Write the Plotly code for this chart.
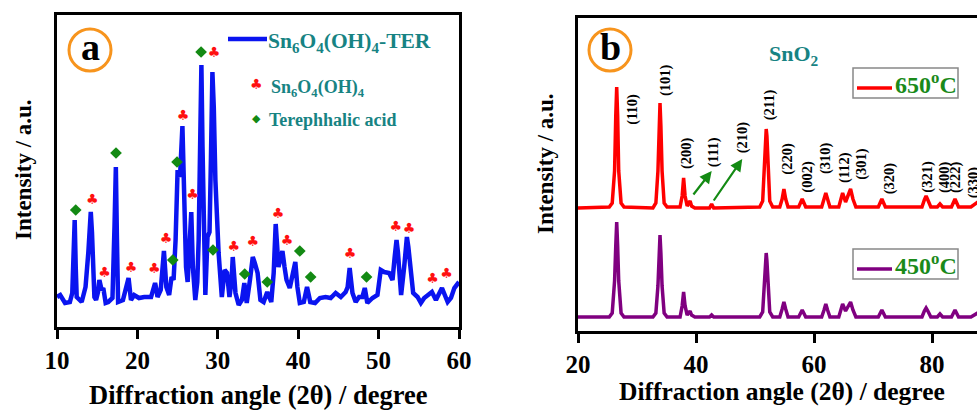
import plotly.graph_objects as go

W, H = 977, 410

# ---------------- Panel a : Sn6O4(OH)4-TER ----------------
a_theta = [10.0, 10.4, 11.0, 11.6, 11.9, 12.05, 12.2, 12.33, 12.45, 13.07, 13.55, 13.9, 14.05, 14.2, 14.35, 14.45, 14.55, 14.65,
           14.86, 15.1, 15.27, 15.4, 15.55, 15.76, 16.05, 16.38, 16.9, 17.15, 17.32, 17.45, 17.6, 18.2, 18.6, 18.9, 19.2,
           19.6, 20.2, 20.85, 21.7, 22.05, 22.2, 22.35, 22.5, 22.9, 23.15, 23.3, 23.45, 23.6, 23.95, 24.25, 24.5, 24.75,
           25.0, 25.3, 25.6, 25.85, 26.05, 26.25, 26.5, 26.7, 26.9, 27.2, 27.45, 27.62, 27.8, 27.96, 28.1, 28.2, 28.45,
           28.72, 28.97, 29.15, 29.33, 29.5, 29.7, 30.1, 30.5, 30.85, 31.15, 31.45, 31.7, 31.86, 32.0, 32.2, 32.6, 33.0,
           33.3, 33.6, 34.0, 34.35, 34.6, 34.95, 35.3, 35.7, 36.15, 36.65, 36.95, 37.2, 37.35, 37.55, 37.85, 38.04, 38.3,
           38.55, 38.95, 39.4, 39.64, 39.9, 40.2, 40.7, 41.1, 41.5, 42.1, 42.7, 43.4, 44.04, 44.66, 45.3, 45.9, 46.15,
           46.4, 46.75, 47.15, 47.57, 47.98, 48.28, 48.6, 49.24, 49.86, 50.27, 50.69, 51.3, 51.73, 52.0, 52.23, 52.4,
           52.56, 52.8, 53.18, 53.35, 53.52, 53.7, 53.9, 54.3, 54.85, 55.26, 55.67, 56.1, 56.63, 57.13, 57.88, 58.59,
           59.0, 59.42, 60.0]
a_int = [30, 32, 24, 25, 34, 75, 107, 60, 30, 25, 40, 75, 100, 115, 95, 80, 50, 30,
         27, 35, 47, 40, 37, 39, 24, 25, 29, 100, 160, 90, 25, 27, 40, 49, 27,
         32, 29, 30, 30, 38, 44, 38, 30, 37, 60, 76, 58, 40, 32, 50, 47, 87,
         157, 150, 201, 110, 60, 45, 80, 115, 60, 27, 45, 87, 180, 262, 180, 120, 32,
         90, 95, 170, 255, 220, 147, 74, 30, 57, 54, 30, 45, 70, 55, 34, 22, 27,
         44, 24, 47, 70, 64, 54, 27, 25, 35, 25, 54, 103, 85, 60, 70, 76, 60,
         47, 39, 54, 65, 40, 24, 25, 40, 25, 24, 29, 30, 29, 34, 30, 35, 40,
         59, 34, 25, 30, 30, 39, 24, 29, 32, 57, 55, 54, 47, 70, 87, 75,
         54, 32, 60, 80, 90, 80, 67, 34, 30, 24, 29, 32, 35, 27, 39, 25,
         29, 39, 45]

club_theta = [14.4, 15.9, 19.2, 22.1, 23.55, 25.67, 26.87, 29.54, 32.0, 34.35, 37.5, 38.6, 46.45, 52.15, 53.8, 56.7, 58.45]
club_int = [127, 54, 59, 58, 88, 211, 132, 274, 80, 85, 113, 86, 73, 100, 98, 48, 53]

dia_theta = [12.33, 17.34, 24.4, 24.93, 27.92, 29.4, 33.35, 36.15, 40.2, 41.55, 48.5]
dia_int = [117, 174, 67, 165, 275, 77, 53, 45, 76, 50, 50]

a_ticks = [10, 20, 30, 40, 50, 60]

# ---------------- Panel b : SnO2 ----------------
b_theta = [20, 25.3, 25.8, 26.2, 26.4, 26.56, 26.72, 26.9, 27.3, 27.8,
           32.7, 33.2, 33.55, 33.75, 33.9, 34.05, 34.25, 34.6, 35.1,
           37.3, 37.65, 37.9, 38.15, 38.5, 38.8, 39.0, 39.25, 39.8,
           42.3, 42.65, 43.0,
           50.8, 51.3, 51.6, 51.78, 51.9, 52.02, 52.2, 52.5, 53.0,
           54.2, 54.6, 54.9, 55.2, 55.6,
           57.4, 58.0, 58.6,
           61.3, 61.7, 62.0, 62.3, 62.7,
           64.2, 64.6, 64.85, 65.35, 65.8, 66.2, 66.6, 67.1,
           70.9, 71.5, 72.1,
           78.3, 78.7, 79.0, 79.3, 79.8,
           80.9, 81.35, 81.8,
           83.3, 83.9, 84.5,
           86.6, 87.3, 88.0]
int_650 = [123, 124, 128, 160, 215, 244, 215, 160, 128, 124,
           123, 128, 160, 205, 228, 205, 160, 128, 124,
           124, 135, 153, 135, 125, 128, 130, 125, 123,
           123, 127, 123,
           124, 130, 165, 195, 202, 195, 165, 130, 124,
           124, 132, 142, 132, 124,
           124, 132, 124,
           124, 132, 138, 132, 124,
           124, 133, 138, 129, 136, 142, 132, 124,
           124, 132, 124,
           124, 131, 135, 131, 124,
           124, 127, 124,
           124, 132, 124,
           124, 127, 130]
int_450 = [14, 14, 18, 50, 85, 109, 85, 50, 18, 14,
           14, 18, 45, 78, 96, 78, 45, 18, 14,
           14, 25, 39, 25, 16, 18, 20, 16, 14,
           14, 16, 14,
           14, 19, 45, 70, 78, 70, 45, 19, 14,
           14, 22, 29, 22, 14,
           14, 21, 14,
           14, 21, 27, 21, 14,
           14, 22, 27, 20, 25, 29, 21, 14,
           14, 21, 14,
           14, 20, 23, 20, 14,
           14, 17, 14,
           14, 21, 14,
           14, 17, 19]

hkl_labels = ["(110)", "(101)", "(200)", "(111)", "(210)", "(211)", "(220)", "(002)", "(310)",
              "(112)", "(301)", "(320)", "(321)", "(400)", "(222)", "(330)"]
hkl_theta = [29.1, 34.75, 38.3, 42.93, 47.85, 52.42, 55.37, 58.76, 61.86, 65.08, 67.92, 72.76, 79.1, 82.03, 83.9, 87.0]
hkl_int = [222, 251, 178, 179, 194, 226, 172, 154, 173, 164, 167, 153, 154, 154, 154, 149]

b_ticks = [20, 40, 60, 80]

SERIF = "Liberation Serif"
TEAL = "#178383"
GREEN = "#1a8a1a"


def pxx(x):
    return x / W


def pxy(y):
    return 1 - y / H


fig = go.Figure()

fig.add_trace(go.Scatter(x=a_theta, y=a_int, mode="lines", line=dict(color="#0a14f0", width=4.5),
                         xaxis="x", yaxis="y", showlegend=False, hoverinfo="skip"))
fig.add_trace(go.Scatter(x=club_theta, y=club_int, mode="text", text=["♣"] * len(club_theta),
                         textfont=dict(family="DejaVu Sans", size=14, color="#ff1010"),
                         xaxis="x", yaxis="y", showlegend=False, hoverinfo="skip"))
fig.add_trace(go.Scatter(x=dia_theta, y=dia_int, mode="markers",
                         marker=dict(symbol="diamond", size=9, color="#138a13"),
                         xaxis="x", yaxis="y", showlegend=False, hoverinfo="skip"))

fig.add_trace(go.Scatter(x=b_theta, y=int_650, mode="lines", line=dict(color="#ff0000", width=3.5),
                         xaxis="x2", yaxis="y2", showlegend=False, hoverinfo="skip"))
fig.add_trace(go.Scatter(x=b_theta, y=int_450, mode="lines", line=dict(color="#800080", width=3.5),
                         xaxis="x2", yaxis="y2", showlegend=False, hoverinfo="skip"))

axis_common = dict(showline=True, linecolor="black", linewidth=3, showgrid=False, zeroline=False,
                   automargin=False)
tickfont = dict(family=SERIF, size=25, color="black", weight="bold")

fig.update_layout(
    width=W, height=H,
    margin=dict(l=0, r=0, t=0, b=0, autoexpand=False),
    paper_bgcolor="white", plot_bgcolor="white",
    xaxis=dict(domain=[pxx(57), pxx(459)], range=[10, 60], tickvals=a_ticks, ticks="outside",
               ticklen=9, tickwidth=3, tickcolor="black", mirror=True, tickfont=tickfont, anchor="y",
               **axis_common),
    yaxis=dict(domain=[pxy(327), pxy(15)], range=[0, 312], showticklabels=False, ticks="",
               mirror=True, anchor="x", **axis_common),
    xaxis2=dict(domain=[pxx(578), 1.0], range=[20, 20 + (977 - 578) / 5.9], tickvals=b_ticks,
                ticks="outside", ticklen=9, tickwidth=3, tickcolor="black", mirror=True,
                tickfont=tickfont, anchor="y2", **axis_common),
    yaxis2=dict(domain=[pxy(331), pxy(18)], range=[0, 313], showticklabels=False, ticks="",
                mirror=False, anchor="x2", **axis_common),
)

shapes = []
annotations = []


def ann(text, x, y, size, color="black", angle=0, family=SERIF, bold=True, xanchor="center"):
    annotations.append(dict(text=text, x=pxx(x), y=pxy(y), xref="paper", yref="paper", showarrow=False,
                            xanchor=xanchor, yanchor="middle", textangle=angle, borderpad=0,
                            font=dict(family=family, size=size, color=color,
                                      weight="bold" if bold else "normal")))


# circles with letters
for cx, cy, letter in [(90, 50, "a"), (610, 50, "b")]:
    shapes.append(dict(type="circle", xref="paper", yref="paper", x0=pxx(cx - 21), x1=pxx(cx + 21),
                       y0=pxy(cy + 21), y1=pxy(cy - 21), line=dict(color="#f7941d", width=3)))
    ann(letter, cx, cy - 3, 38)

# axis titles
ann("Diffraction angle (2θ) / degree", 258, 395, 26.5)
ann("Diffraction angle (2θ) / degree", 782, 391, 25.5)
ann("Intensity / a.u.", 24, 170, 23, angle=-90)
ann("Intensity / a.u.", 545, 164, 23, angle=-90)

# panel a legend
shapes.append(dict(type="line", xref="paper", yref="paper", x0=pxx(228), x1=pxx(267), y0=pxy(39), y1=pxy(39),
                   line=dict(color="#0a14f0", width=4.5)))
ann("Sn<sub>6</sub>O<sub>4</sub>(OH)<sub>4</sub>-TER", 267, 43, 21.5, color=TEAL, xanchor="left")
ann("♣", 256, 84, 14, color="#ff1010", family="DejaVu Sans", bold=False)
ann("Sn<sub>6</sub>O<sub>4</sub>(OH)<sub>4</sub>", 270, 89, 18, color=TEAL, xanchor="left")
ann("◆", 256, 118, 11, color="#138a13", family="DejaVu Sans", bold=False)
ann("Terephhalic acid", 268, 120, 18, color=TEAL, xanchor="left")

# panel b title and legends
ann("SnO<sub>2</sub>", 794, 55, 22, color=TEAL)
for (y0, y1, ly, col, label) in [(68, 98, 88, "#ff0000", "650<sup>o</sup>C"),
                                 (249, 279, 269, "#800080", "450<sup>o</sup>C")]:
    shapes.append(dict(type="rect", xref="paper", yref="paper", x0=pxx(853), x1=pxx(958), y0=pxy(y1), y1=pxy(y0),
                       line=dict(color="#888888", width=1.5), fillcolor="rgba(0,0,0,0)"))
    shapes.append(dict(type="line", xref="paper", yref="paper", x0=pxx(857), x1=pxx(892), y0=pxy(ly), y1=pxy(ly),
                       line=dict(color=col, width=3.5)))
    ann(label, 894, ly - 5, 24, color=GREEN, xanchor="left")

# Miller indices
for lab, t, v in zip(hkl_labels, hkl_theta, hkl_int):
    annotations.append(dict(text=lab, x=t, y=v, xref="x2", yref="y2", showarrow=False, textangle=-90,
                            borderpad=0,
                            font=dict(family=SERIF, size=14.5, color="black", weight="bold")))

# green arrows
for (t0, i0, t1, i1) in [(39.37, 135, 42.66, 160), (42.83, 129, 47.84, 172)]:
    annotations.append(dict(x=t1, y=i1, ax=t0, ay=i0, xref="x2", yref="y2", axref="x2", ayref="y2",
                            text="", showarrow=True, arrowhead=2, arrowsize=1.1, arrowwidth=2.2,
                            arrowcolor="#138a13"))

fig.update_layout(shapes=shapes, annotations=annotations)
fig.write_html("out.html")
